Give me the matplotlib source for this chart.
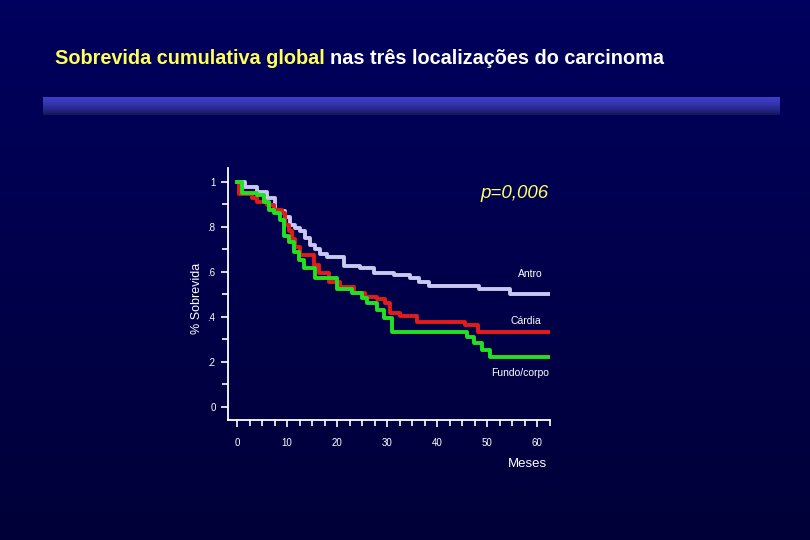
import matplotlib
matplotlib.use("Agg")
import matplotlib.pyplot as plt
import numpy as np

plt.rcParams['font.family'] = ['Liberation Sans', 'DejaVu Sans']

# survival curves (months, cumulative survival), step after each time
antro_t = [0, 1.6, 3.9, 5.9, 7.6, 9.6, 10.6, 11.6, 12.6, 13.6, 14.6, 15.6, 16.6,
           17.9, 21.3, 24.6, 27.3, 31.3, 34.6, 36.3, 38.3, 48.3, 54.6, 62.5]
antro_s = [1.0, 0.979, 0.955, 0.93, 0.872, 0.846, 0.809, 0.795, 0.78, 0.75, 0.72, 0.70, 0.68,
           0.665, 0.627, 0.616, 0.597, 0.587, 0.572, 0.557, 0.538, 0.523, 0.50, 0.50]

cardia_t = [0, 0.3, 2.9, 3.9, 5.9, 7.3, 8.9, 9.6, 10.3, 10.9, 11.6, 12.6, 15.3, 16.3,
            18.3, 20.6, 23.3, 25.6, 27.9, 29.6, 30.6, 32.6, 35.9, 45.5, 48.1, 62.5]
cardia_s = [1.0, 0.945, 0.93, 0.913, 0.898, 0.876, 0.86, 0.81, 0.78, 0.745, 0.712, 0.676, 0.63, 0.594,
            0.557, 0.532, 0.505, 0.49, 0.479, 0.46, 0.416, 0.404, 0.379, 0.364, 0.332, 0.332]

fundo_t = [0, 1.0, 3.9, 5.3, 6.3, 7.3, 8.6, 9.3, 10.3, 11.3, 12.3, 13.3, 15.6, 19.9,
           22.9, 24.9, 25.9, 27.9, 29.3, 30.9, 45.9, 47.3, 48.9, 50.6, 62.5]
fundo_s = [1.0, 0.952, 0.94, 0.912, 0.876, 0.86, 0.83, 0.76, 0.735, 0.69, 0.653, 0.616, 0.572, 0.523,
           0.505, 0.483, 0.461, 0.431, 0.394, 0.335, 0.313, 0.283, 0.253, 0.224, 0.224]

xticks = [0, 10, 20, 30, 40, 50, 60]
xlabels = ['0', '10', '20', '30', '40', '50', '60']
yticks = [0, 0.2, 0.4, 0.6, 0.8, 1.0]
ylabels = ['0', '.2', '.4', '.6', '.8', '1']

fig = plt.figure(figsize=(8.1, 5.4), dpi=100)

# background gradient
bg = fig.add_axes([0, 0, 1, 1])
grad = np.linspace(0, 1, 256).reshape(-1, 1)
top = np.array([0.0, 0.0, 0.37])
bot = np.array([0.0, 0.0, 0.22])
img = top + (bot - top) * grad[:, :, None]
bg.imshow(img, aspect='auto', extent=[0, 1, 0, 1])
bg.set_axis_off()

# decorative bar under title
bar = fig.add_axes([43 / 810, 1 - 115 / 540, 737 / 810, 18 / 540])
g2 = np.linspace(0, 1, 64).reshape(-1, 1)
c1 = np.array([0.24, 0.24, 0.78])
c2 = np.array([0.08, 0.08, 0.35])
bar.imshow(c1 + (c2 - c1) * (g2 ** 1.5)[:, :, None], aspect='auto', extent=[0, 1, 0, 1])
bar.set_axis_off()

# title: yellow part + white part
t1 = fig.text(55 / 810, 1 - 58 / 540, "Sobrevida cumulativa global", color='#ffff55',
              fontsize=14.3, fontweight='bold', va='center', ha='left')
fig.canvas.draw()
bb = t1.get_window_extent()
fig.text(bb.x1 / 810 + 5 / 810, 1 - 58 / 540, "nas três localizações do carcinoma", color='white',
         fontsize=14.3, fontweight='bold', va='center', ha='left')

ax = fig.add_axes([228 / 810, 1 - 420 / 540, 322 / 810, 252 / 540])
ax.set_facecolor('none')
ax.step(antro_t, antro_s, where='post', color='#c8c8f0', lw=2.8)
ax.step(cardia_t, cardia_s, where='post', color='#e41b1b', lw=2.8)
ax.step(fundo_t, fundo_s, where='post', color='#22e022', lw=2.8)

ax.set_xlim(-1.8, 62.6)
ax.set_ylim(-0.058, 1.062)
for s in ['top', 'right']:
    ax.spines[s].set_visible(False)
for s in ['left', 'bottom']:
    ax.spines[s].set_color('white')
    ax.spines[s].set_linewidth(1.3)

ax.set_xticks(xticks)
ax.set_xticklabels(xlabels)
ax.set_xticks(np.arange(0, 62.6, 2.5), minor=True)
ax.set_yticks(yticks)
ax.set_yticklabels(ylabels)
ax.set_yticks(np.arange(0, 1.01, 0.1), minor=True)
ax.tick_params(colors='white', labelsize=7, width=1.2, length=5)
ax.tick_params(axis='x', pad=8)
ax.tick_params(axis='y', pad=4)
ax.tick_params(axis='x', which='minor', colors='white', width=1.2, length=4)
ax.tick_params(axis='y', which='minor', colors='white', width=1.2, length=4)

ax.set_ylabel('% Sobrevida', color='white', fontsize=9)
ax.yaxis.set_label_coords(-25 / 322, (420 - 298) / 252)
fig.text(527 / 810, 1 - 464 / 540, 'Meses', color='white', fontsize=9.5, ha='center', va='center')

ax.text(58.6, 0.59, 'Antro', color='white', fontsize=7.5, ha='center', va='center')
ax.text(57.8, 0.382, 'Cárdia', color='white', fontsize=7.5, ha='center', va='center')
ax.text(56.6, 0.151, 'Fundo/corpo', color='white', fontsize=7.5, ha='center', va='center')
ax.text(55.6, 0.95, 'p=0,006', color='#ffff66', fontsize=13.5, style='italic',
        ha='center', va='center')

fig.savefig('out.png', dpi=100, facecolor='#000048')
